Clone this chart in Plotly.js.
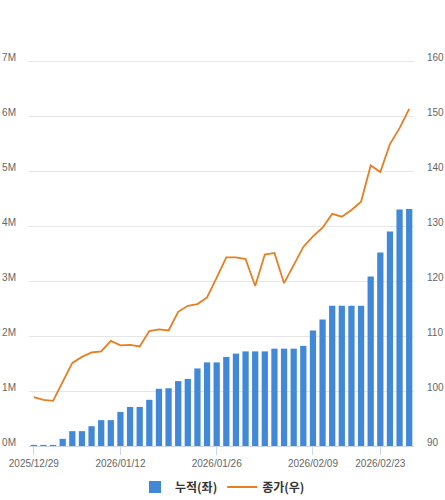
<!DOCTYPE html>
<html>
<head>
<meta charset="utf-8">
<script src="https://cdn.plot.ly/plotly-3.0.1.min.js"></script>
<style>html,body{margin:0;padding:0;background:#fff;}#chart{width:445px;height:500px;}</style>
</head>
<body>
<div id="chart"></div>
<script>
// Trading dates (categories)
const dates = [
  "2025/12/29","2025/12/30","2025/12/31","2026/01/02","2026/01/05","2026/01/06","2026/01/07","2026/01/08","2026/01/09",
  "2026/01/12","2026/01/13","2026/01/14","2026/01/15","2026/01/16",
  "2026/01/19","2026/01/20","2026/01/21","2026/01/22","2026/01/23",
  "2026/01/26","2026/01/27","2026/01/28","2026/01/29","2026/01/30",
  "2026/02/02","2026/02/03","2026/02/04","2026/02/05","2026/02/06",
  "2026/02/09","2026/02/10","2026/02/11","2026/02/12","2026/02/13",
  "2026/02/19","2026/02/20",
  "2026/02/23","2026/02/24","2026/02/25","2026/02/26"
];
// 누적(좌) - cumulative, millions
const cumulativeM = [0.02,0.02,0.02,0.13,0.27,0.27,0.36,0.47,0.47,0.62,0.71,0.71,0.84,1.04,1.05,1.18,1.22,1.41,1.52,1.52,
                     1.62,1.68,1.72,1.72,1.72,1.77,1.77,1.77,1.82,2.10,2.30,2.55,2.55,2.55,2.55,3.08,3.52,3.90,4.30,4.31];
// 종가(우) - closing price
const closePrice = [98.9,98.4,98.2,101.7,105.1,106.2,107.0,107.2,109.1,108.3,108.4,108.1,110.9,111.2,111.0,114.4,115.5,115.8,117.0,120.6,
                    124.3,124.3,124.0,119.1,124.8,125.1,119.6,122.9,126.2,128.1,129.7,132.2,131.7,132.9,134.4,141.0,139.8,144.9,147.8,151.3];
const xTickDates = ["2025/12/29","2026/01/12","2026/01/26","2026/02/09","2026/02/23"];
const leftTickVals = [0,1,2,3,4,5,6,7,8];
const leftTickText = ["0M","1M","2M","3M","4M","5M","6M","7M",""];
const rightTickVals = [90,100,110,120,130,140,150,160,170];
const rightTickText = ["90","100","110","120","130","140","150","160",""];
const seriesNames = ["누적(좌)","종가(우)"];

const cumulative = cumulativeM.map(v => v * 1e6);

const tickFont = {family: "Liberation Sans, Arial, sans-serif", size: 10, color: "#666666"};

const data = [
  {
    type: "bar", x: dates, y: cumulative, name: seriesNames[0],
    marker: {color: "#4189d8"}, yaxis: "y", hoverinfo: "x+y"
  },
  {
    type: "scatter", mode: "lines", x: dates, y: closePrice, name: seriesNames[1],
    line: {color: "#e67e22", width: 1.8}, yaxis: "y2"
  }
];

const layout = {
  width: 445, height: 500,
  margin: {l: 29, r: 31, t: 6, b: 54},
  paper_bgcolor: "#ffffff", plot_bgcolor: "#ffffff",
  bargap: 0.35,
  showlegend: true,
  legend: {
    orientation: "h", x: 0.5, xanchor: "center", xref: "container",
    y: 0.026, yref: "container", yanchor: "middle",
    font: {family: "Noto Sans CJK KR, sans-serif", size: 12, color: "#333333", weight: "bold"},
    itemwidth: 30
  },
  xaxis: {
    type: "category",
    tickvals: xTickDates, ticktext: xTickDates,
    tickfont: tickFont, tickangle: 0,
    showgrid: false, zeroline: false,
    showline: true, linecolor: "#ccd6eb", linewidth: 1,
    ticks: "outside", ticklen: 8, tickcolor: "#ccd6eb", tickwidth: 1,
    fixedrange: true
  },
  yaxis: {
    range: [0, 8e6],
    tickvals: leftTickVals.map(v => v * 1e6), ticktext: leftTickText,
    tickfont: tickFont, showgrid: true, gridcolor: "#e6e6e6", gridwidth: 1,
    zeroline: false, showline: false, ticks: "", ticklabelstandoff: 12, ticklabelshift: -4,
    fixedrange: true
  },
  yaxis2: {
    range: [90, 170], overlaying: "y", side: "right",
    tickvals: rightTickVals, ticktext: rightTickText,
    tickfont: tickFont, showgrid: false, zeroline: false, showline: false,
    ticks: "", ticklabelstandoff: 12, ticklabelshift: -4,
    fixedrange: true
  }
};

Plotly.newPlot("chart", data, layout, {displayModeBar: false, staticPlot: true});
</script>
</body>
</html>
